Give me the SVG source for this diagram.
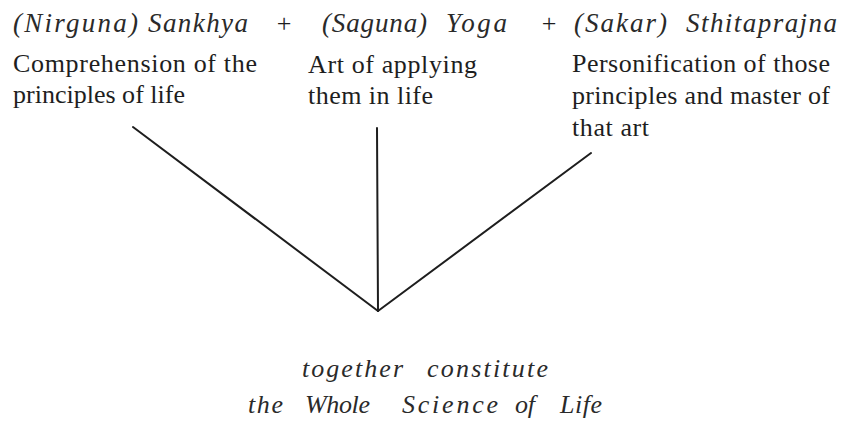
<svg xmlns="http://www.w3.org/2000/svg" width="844" height="421" viewBox="0 0 844 421">
<style>
text{font-family:"Liberation Serif","DejaVu Serif",serif;fill:#1e1e1e}
.t{font-style:italic;font-size:27px;fill:#2a2a2a}
.b{font-size:26px}
.f{font-style:italic;font-size:26px;fill:#2a2a2a}
.c line{stroke:#1e1e1e;stroke-width:2;stroke-linecap:round}
</style>
<rect width="844" height="421" fill="#fff"/>
<g id="sankhya">
<text class="t" y="32"><tspan x="13" textLength="125">(Nirguna)</tspan><tspan x="148" textLength="100">Sankhya</tspan></text>
<text class="b" x="13" y="72" textLength="244" lengthAdjust="spacing">Comprehension of the</text>
<text class="b" x="13" y="103" textLength="172" lengthAdjust="spacing">principles of life</text>
</g>
<g id="plus1"><text class="b" x="284" y="32" text-anchor="middle">+</text></g>
<g id="yoga">
<text class="t" y="32"><tspan x="322" textLength="105">(Saguna)</tspan><tspan x="446" textLength="61">Yoga</tspan></text>
<text class="b" x="308" y="73" textLength="169" lengthAdjust="spacing">Art of applying</text>
<text class="b" x="308" y="104" textLength="125" lengthAdjust="spacing">them in life</text>
</g>
<g id="plus2"><text class="b" x="549" y="32" text-anchor="middle">+</text></g>
<g id="sthitaprajna">
<text class="t" y="32"><tspan x="574" textLength="93">(Sakar)</tspan><tspan x="686" textLength="151">Sthitaprajna</tspan></text>
<text class="b" x="572" y="72" textLength="258" lengthAdjust="spacing">Personification of those</text>
<text class="b" x="572" y="104" textLength="258" lengthAdjust="spacing">principles and master of</text>
<text class="b" x="572" y="136" textLength="77" lengthAdjust="spacing">that art</text>
</g>
<g class="c" id="connectors">
<line x1="133" y1="127" x2="378" y2="311"/>
<line x1="377" y1="128" x2="378" y2="311"/>
<line x1="591" y1="153" x2="378" y2="311"/>
</g>
<g id="result">
<text class="f" y="377"><tspan x="302" textLength="101">together</tspan><tspan x="427" textLength="121">constitute</tspan></text>
<text class="f" y="413"><tspan x="248" textLength="35">the</tspan><tspan x="305" textLength="65">Whole</tspan><tspan x="402" textLength="96">Science</tspan><tspan x="515" textLength="20">of</tspan><tspan x="560" textLength="42">Life</tspan></text>
</g>
</svg>
